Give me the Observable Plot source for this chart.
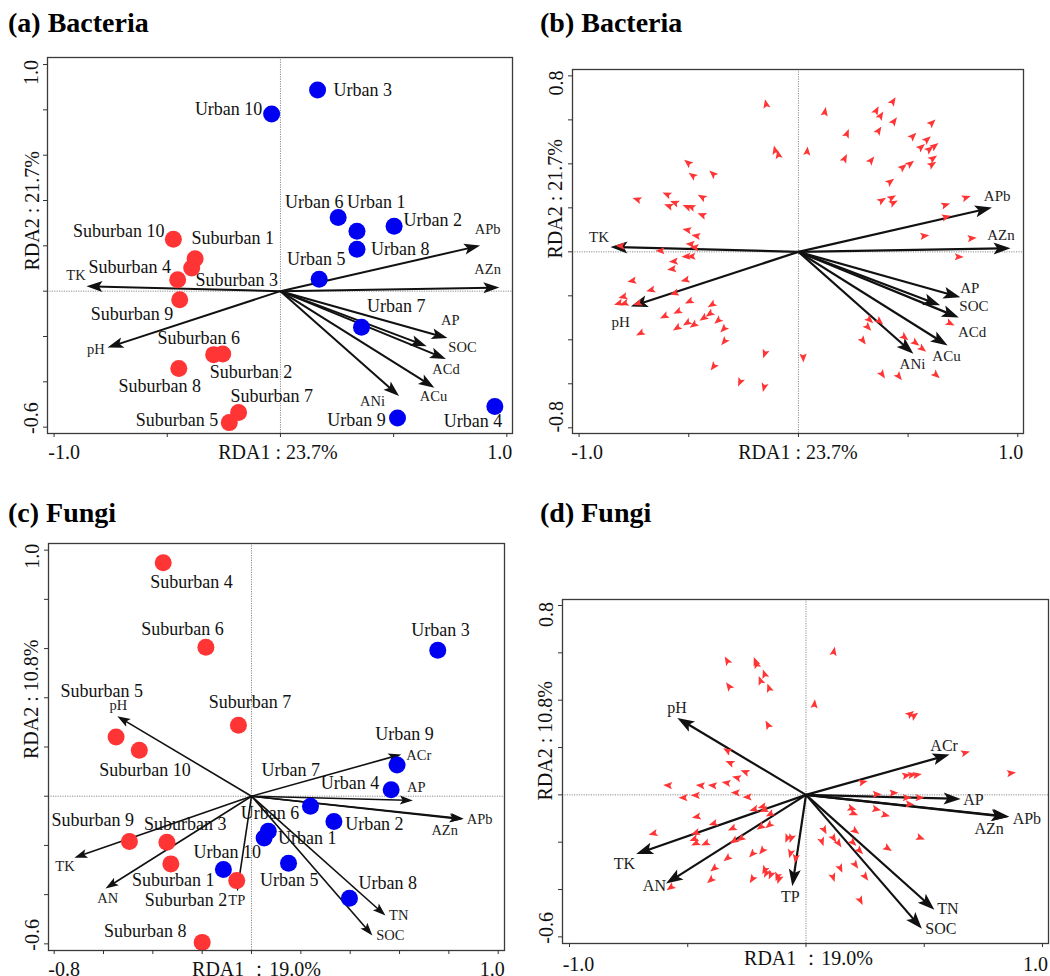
<!DOCTYPE html>
<html>
<head>
<meta charset="utf-8">
<script src="https://cdn.jsdelivr.net/npm/d3@7"></script>
<script src="https://cdn.jsdelivr.net/npm/@observablehq/plot@0.6"></script>
<style>
  body { margin: 0; background: #fff; }
  #page { position: relative; width: 1050px; height: 976px; overflow: hidden; background: #fff;
          font-family: "Liberation Serif", "Times New Roman", serif; }
  .ptitle { position: absolute; font-weight: bold; font-size: 28px; line-height: 28px; color: #000; white-space: nowrap; }
</style>
</head>
<body>
<div id="page"></div>
<script>
// ---------------- DATA ----------------
// Panel titles and axis titles
const panelTitles = ["(a) Bacteria", "(b) Bacteria", "(c) Fungi", "(d) Fungi"];
const bactXTitle = "RDA1 : 23.7%";
const bactYTitle = "RDA2 : 21.7%";
const fungXTitle = "RDA1 \uFF1A19.0%";
const fungYTitle = "RDA2 : 10.8%";

// Tick values and labelled ticks
const aXTicks = [-1, -0.5, 0, 0.5, 1];
const aYTicks = [-0.6, -0.4, -0.2, 0, 0.2, 0.4, 0.6, 0.8, 1.0];
const aXTickLabels = [-1.0, 1.0];
const aYTickLabels = [1.0, -0.6];
const bXTicks = [-1, -0.5, 0, 0.5, 1];
const bYTicks = [-0.8, -0.6, -0.4, -0.2, 0, 0.2, 0.4, 0.6, 0.8];
const bXTickLabels = [-1.0, 1.0];
const bYTickLabels = [0.8, -0.8];
const cXTicks = [-0.8, -0.6, -0.4, -0.2, 0, 0.2, 0.4, 0.6, 0.8, 1.0];
const cYTicks = [-0.6, -0.4, -0.2, 0, 0.2, 0.4, 0.6, 0.8, 1.0];
const cXTickLabels = [-0.8, 1.0];
const cYTickLabels = [1.0, -0.6];
const dXTicks = [-1, -0.5, 0, 0.5, 1];
const dYTicks = [-0.6, -0.4, -0.2, 0, 0.2, 0.4, 0.6, 0.8];
const dXTickLabels = [-1.0, 1.0];
const dYTickLabels = [0.8, -0.6];

// Sample names (same order in panels a and c)
const sampleNames = ["Urban 1","Urban 2","Urban 3","Urban 4","Urban 5","Urban 6","Urban 7","Urban 8","Urban 9","Urban 10",
  "Suburban 1","Suburban 2","Suburban 3","Suburban 4","Suburban 5","Suburban 6","Suburban 7","Suburban 8","Suburban 9","Suburban 10"];

// Panel (a) bacteria sample scores
const aSampleX = [0.338, 0.502, 0.164, 0.947, 0.171, 0.255, 0.358, 0.338, 0.517, -0.039,
  -0.377, -0.255, -0.392, -0.454, -0.226, -0.295, -0.185, -0.449, -0.445, -0.473];
const aSampleY = [0.264, 0.286, 0.888, -0.509, 0.053, 0.325, -0.159, 0.185, -0.560, 0.782,
  0.143, -0.277, 0.102, 0.050, -0.580, -0.280, -0.535, -0.341, -0.038, 0.229];
const aLabelX = [0.423, 0.673, 0.364, 0.850, 0.158, 0.149, 0.511, 0.529, 0.336, -0.229,
  -0.211, -0.130, -0.193, -0.666, -0.457, -0.361, -0.038, -0.533, -0.656, -0.714];
const aLabelY = [0.391, 0.311, 0.888, -0.575, 0.139, 0.391, -0.068, 0.185, -0.568, 0.804,
  0.235, -0.358, 0.050, 0.106, -0.568, -0.206, -0.465, -0.420, -0.100, 0.265];

// Panel (c) fungi sample scores
const cSampleX = [0.051, 0.334, 0.755, 0.566, 0.150, 0.068, 0.239, 0.397, 0.590, -0.114,
  -0.327, -0.060, -0.343, -0.358, -0.549, -0.185, -0.053, -0.200, -0.495, -0.455];
const cSampleY = [-0.170, -0.103, 0.593, 0.026, -0.272, -0.142, -0.041, -0.415, 0.127, -0.298,
  -0.275, -0.343, -0.187, 0.949, 0.241, 0.605, 0.288, -0.594, -0.184, 0.187];
const cLabelX = [0.226, 0.498, 0.766, 0.399, 0.153, 0.075, 0.159, 0.552, 0.620, -0.098,
  -0.317, -0.266, -0.269, -0.243, -0.607, -0.280, -0.006, -0.431, -0.644, -0.432];
const cLabelY = [-0.171, -0.112, 0.674, 0.053, -0.340, -0.069, 0.107, -0.352, 0.251, -0.228,
  -0.340, -0.424, -0.113, 0.871, 0.427, 0.677, 0.382, -0.547, -0.096, 0.107];

// Bacteria environmental arrows (panels a, b)
const bactEnvNames = ["TK", "pH", "APb", "AZn", "AP", "SOC", "ACd", "ACu", "ANi"];
const bactEnvX = [-0.857, -0.764, 0.882, 0.967, 0.738, 0.646, 0.731, 0.680, 0.524];
const bactEnvY = [0.022, -0.249, 0.201, 0.016, -0.207, -0.243, -0.299, -0.426, -0.463];
const aEnvLabelX = [-0.903, -0.815, 0.915, 0.915, 0.750, 0.804, 0.731, 0.676, 0.407];
const aEnvLabelY = [0.069, -0.255, 0.272, 0.096, -0.130, -0.248, -0.344, -0.466, -0.484];
const bEnvLabelX = [-0.909, -0.810, 0.906, 0.923, 0.781, 0.800, 0.792, 0.675, 0.520];
const bEnvLabelY = [0.065, -0.321, 0.255, 0.076, -0.165, -0.249, -0.367, -0.476, -0.511];

// Fungi environmental arrows (panels c, d)
const fungEnvNames = ["pH", "ACr", "AP", "APb", "AZn", "TN", "SOC", "TP", "TK", "AN"];
const fungEnvX = [-0.544, 0.607, 0.654, 0.860, 0.855, 0.543, 0.490, -0.058, -0.718, -0.592];
const fungEnvY = [0.325, 0.170, -0.017, -0.092, -0.094, -0.485, -0.566, -0.386, -0.250, -0.375];
const cEnvLabelX = [-0.540, 0.678, 0.668, 0.925, 0.783, 0.597, 0.563, -0.060, -0.756, -0.583];
const cEnvLabelY = [0.369, 0.168, 0.037, -0.096, -0.140, -0.485, -0.567, -0.424, -0.286, -0.417];
const dEnvLabelX = [-0.545, 0.584, 0.708, 0.934, 0.774, 0.600, 0.570, -0.066, -0.768, -0.641];
const dEnvLabelY = [0.369, 0.209, -0.020, -0.103, -0.143, -0.481, -0.565, -0.431, -0.293, -0.385];

// Panel (b) bacterial species scores
const bSpeciesX = [-0.148,-0.107,-0.092,0.040,-0.505,-0.484,-0.391,-0.737,-0.601,-0.566,-0.593,-0.509,-0.491,-0.441,-0.441,
  -0.509,-0.468,-0.494,-0.475,-0.813,-0.631,-0.513,-0.490,-0.570,-0.578,-0.517,-0.760,-0.674,-0.567,-0.801,-0.795,-0.821,
  -0.734,-0.499,-0.396,-0.406,-0.434,-0.552,-0.613,-0.555,-0.509,-0.479,-0.368,-0.342,-0.339,-0.722,-0.154,0.022,-0.388,
  -0.267,-0.157,
  0.121,0.356,0.376,0.432,0.437,0.610,0.222,0.367,0.523,0.588,0.561,0.599,0.622,0.212,0.333,0.615,0.611,0.478,0.511,
  0.420,0.382,0.427,0.435,0.766,0.672,0.675,0.576,0.792,0.733,0.326,0.371,0.318,0.295,0.485,0.535,0.566,0.693,0.383,
  0.459,0.629];
const bSpeciesY = [0.674,0.464,0.444,0.459,0.406,0.348,0.356,0.239,0.262,0.224,0.209,0.205,0.205,0.250,0.168,
  0.100,0.073,0.035,0.020,0.027,0.005,-0.021,-0.021,-0.044,-0.079,-0.129,-0.132,-0.174,-0.189,-0.205,-0.235,-0.235,
  -0.235,-0.226,-0.241,-0.283,-0.302,-0.273,-0.294,-0.347,-0.324,-0.333,-0.314,-0.352,-0.409,-0.371,-0.465,-0.483,-0.523,
  -0.594,-0.617,
  0.638,0.644,0.621,0.686,0.595,0.588,0.539,0.553,0.527,0.512,0.477,0.467,0.482,0.426,0.418,0.426,0.398,0.386,0.402,
  0.320,0.235,0.247,0.224,0.247,0.214,0.159,0.073,0.062,-0.023,-0.311,-0.317,-0.344,-0.405,-0.389,-0.415,-0.442,-0.326,-0.559,
  -0.568,-0.561];

// Panel (d) fungal species scores
const dSpeciesX = [-0.334,-0.214,-0.210,-0.176,-0.193,-0.157,-0.327,-0.162,-0.334,-0.323,-0.259,-0.294,-0.338,-0.396,-0.447,
  -0.585,-0.299,-0.249,-0.468,-0.520,-0.221,-0.186,-0.179,-0.153,-0.464,-0.393,-0.313,-0.157,-0.193,-0.647,-0.468,-0.475,
  -0.468,-0.426,-0.306,-0.277,-0.080,-0.063,-0.066,-0.044,-0.228,-0.186,-0.334,-0.390,-0.404,-0.228,-0.176,-0.169,-0.150,
  -0.122,-0.115,-0.574,
  0.118,0.036,0.442,0.459,0.675,0.869,0.426,0.450,0.471,0.242,0.301,0.372,0.428,0.482,0.440,0.195,0.203,0.299,0.337,
  0.078,0.068,0.118,0.139,0.210,0.200,0.228,0.347,0.485,0.146,0.210,0.252,0.115,0.231];
const dSpeciesY = [0.568,0.565,0.554,0.512,0.484,0.453,0.460,0.297,0.188,0.136,0.097,0.073,0.051,0.040,0.040,
  0.040,0.009,-0.009,-0.002,-0.012,-0.062,-0.051,-0.065,-0.082,-0.093,-0.122,-0.143,-0.129,-0.136,-0.164,-0.161,-0.188,
  -0.206,-0.206,-0.195,-0.185,-0.185,-0.185,-0.249,-0.270,-0.251,-0.237,-0.269,-0.312,-0.361,-0.357,-0.319,-0.333,-0.340,
  -0.347,-0.358,-0.392,
  0.607,0.385,0.343,0.336,0.178,0.092,0.082,0.085,0.085,0.054,0.002,0.008,-0.012,-0.012,-0.040,-0.058,-0.079,-0.061,-0.086,
  -0.150,-0.199,-0.185,-0.206,-0.154,-0.203,-0.237,-0.227,-0.182,-0.312,-0.297,-0.347,-0.350,-0.448];

// ---------------- DRAWING ----------------
const RED = "#ff3434";
const BLUE = "#0000f2";
const INK = "#111111";
const fmt = d => d.toFixed(1);
const angle = d => 90 - Math.atan2(d.y, d.x) * 180 / Math.PI;

function headShape(len, half, notch) {
  return {
    draw(ctx) {
      ctx.moveTo(0, -len);
      ctx.lineTo(-half, 0);
      ctx.lineTo(0, -len * notch);
      ctx.lineTo(half, 0);
      ctx.closePath();
    }
  };
}

function zip(names, xs, ys, lxs, lys) {
  return names.map((n, i) => ({name: n, x: xs[i], y: ys[i], lx: lxs ? lxs[i] : null, ly: lys ? lys[i] : null}));
}

function panel(cfg) {
  const env = zip(cfg.envNames, cfg.envX, cfg.envY, cfg.envLX, cfg.envLY);
  const marks = [
    Plot.ruleX([0], {stroke: "#8c8c8c", strokeWidth: 1, strokeDasharray: "1.2,1.2"}),
    Plot.ruleY([0], {stroke: "#8c8c8c", strokeWidth: 1, strokeDasharray: "1.2,1.2"})
  ];
  let samples = null;
  if (cfg.sampleX) {
    samples = zip(sampleNames, cfg.sampleX, cfg.sampleY, cfg.labelX, cfg.labelY);
    marks.push(Plot.text(samples, {x: "lx", y: "ly", text: "name", fontSize: 18, fill: INK}));
  }
  marks.push(Plot.arrow(env, {x1: d => 0, y1: d => 0, x2: "x", y2: "y", headLength: 0, insetEnd: cfg.headLen * 0.5,
    stroke: INK, strokeWidth: cfg.shaftW, strokeLinecap: "butt"}));
  marks.push(Plot.vector(env, {x: "x", y: "y", length: cfg.headLen, rotate: angle, anchor: "end",
    shape: headShape(cfg.headLen, cfg.headHalf, 0.22), fill: INK, stroke: "none"}));
  marks.push(Plot.text(env, {x: "lx", y: "ly", text: "name", fontSize: cfg.envFont, fill: "#222"}));
  if (samples) {
    marks.push(Plot.dot(samples.filter(d => d.name.startsWith("Urban")), {x: "x", y: "y", r: 8.5, fill: BLUE, stroke: "none"}));
    marks.push(Plot.dot(samples.filter(d => d.name.startsWith("Suburban")), {x: "x", y: "y", r: 8.5, fill: RED, stroke: "none"}));
  }
  if (cfg.speciesX) {
    const sp = cfg.speciesX.map((x, i) => ({x, y: cfg.speciesY[i]}));
    marks.push(Plot.vector(sp, {x: "x", y: "y", length: 9, rotate: angle, anchor: "middle",
      shape: headShape(9, 3.6, 0.2), fill: RED, stroke: "none"}));
  }
  // frame + axes
  marks.push(
    Plot.frame({stroke: "#3a3a3a", strokeWidth: 1.3}),
    Plot.axisX(cfg.xTicks, {tickSize: 4, fill: "none", stroke: "#333", label: null}),
    Plot.axisY(cfg.yTicks, {tickSize: 4, fill: "none", stroke: "#333", label: null}),
    Plot.axisX([cfg.xLab[0]], {tickSize: 0, tickPadding: cfg.xPad, lineAnchor: "bottom", dx: cfg.xShift[0],
      tickFormat: fmt, fontSize: 20, fill: INK, label: null}),
    Plot.axisX([cfg.xLab[1]], {tickSize: 0, tickPadding: cfg.xPad, lineAnchor: "bottom", dx: cfg.xShift[1],
      tickFormat: fmt, fontSize: 20, fill: INK, label: null}),
    Plot.axisY([cfg.yLab[0]], {tickSize: 0, tickPadding: 10, tickRotate: -90, textAnchor: "middle", lineAnchor: "bottom",
      dy: cfg.yShift[0], tickFormat: fmt, fontSize: 20, fill: INK, label: null}),
    Plot.axisY([cfg.yLab[1]], {tickSize: 0, tickPadding: 10, tickRotate: -90, textAnchor: "middle", lineAnchor: "bottom",
      dy: cfg.yShift[1], tickFormat: fmt, fontSize: 20, fill: INK, label: null}),
    Plot.text([cfg.xTitle], {frameAnchor: "bottom", lineAnchor: "bottom", dx: cfg.xTitleDx, dy: cfg.xTitleDy, fontSize: 20, fill: INK}),
    Plot.text([cfg.yTitle], {frameAnchor: "left", rotate: -90, lineAnchor: "bottom", dx: cfg.yTitleDx, dy: cfg.yTitleDy, fontSize: 20, fill: INK})
  );
  const svg = Plot.plot({
    width: cfg.width, height: cfg.height,
    marginTop: cfg.m[0], marginRight: cfg.m[1], marginBottom: cfg.m[2], marginLeft: cfg.m[3],
    x: {domain: cfg.xDomain}, y: {domain: cfg.yDomain},
    style: {fontFamily: '"Liberation Serif", "Times New Roman", serif', fontSize: "20px", color: INK,
            background: "transparent", overflow: "visible"},
    marks
  });
  svg.style.position = "absolute";
  svg.style.left = cfg.left + "px";
  svg.style.top = cfg.top + "px";
  document.getElementById("page").appendChild(svg);
}

const page = document.getElementById("page");
[[8, 8.5], [540, 8.5], [8, 498.5], [540, 498.5]].forEach(([l, t], i) => {
  const div = document.createElement("div");
  div.className = "ptitle";
  div.style.left = l + "px";
  div.style.top = t + "px";
  div.textContent = panelTitles[i];
  page.appendChild(div);
});

// (a)
panel({left: 0, top: 40, width: 525, height: 440, m: [17, 13, 47, 47],
  xDomain: [-1.029, 1.025], yDomain: [-0.628, 1.031],
  xTicks: aXTicks, yTicks: aYTicks, xLab: aXTickLabels, yLab: aYTickLabels,
  xPad: 25, xShift: [10, -7], yShift: [8, -9],
  xTitle: bactXTitle, yTitle: bactYTitle, xTitleDx: -2, xTitleDy: 25, yTitleDx: -9, yTitleDy: 25,
  sampleX: aSampleX, sampleY: aSampleY, labelX: aLabelX, labelY: aLabelY,
  envNames: bactEnvNames, envX: bactEnvX, envY: bactEnvY, envLX: aEnvLabelX, envLY: aEnvLabelY,
  envFont: 14.5, headLen: 16, headHalf: 5.5, shaftW: 2});

// (b)
panel({left: 530, top: 40, width: 520, height: 440, m: [29, 27, 47, 42],
  xDomain: [-1.030, 1.026], yDomain: [-0.826, 0.829],
  xTicks: bXTicks, yTicks: bYTicks, xLab: bXTickLabels, yLab: bYTickLabels,
  xPad: 25, xShift: [8, -7], yShift: [7, -11],
  xTitle: bactXTitle, yTitle: bactYTitle, xTitleDx: 0, xTitleDy: 25, yTitleDx: -11, yTitleDy: 7,
  speciesX: bSpeciesX, speciesY: bSpeciesY,
  envNames: bactEnvNames, envX: bactEnvX, envY: bactEnvY, envLX: bEnvLabelX, envLY: bEnvLabelY,
  envFont: 15, headLen: 17, headHalf: 6, shaftW: 2.2});

// (c)
panel({left: 0, top: 530, width: 525, height: 446, m: [13, 21, 26, 48],
  xDomain: [-0.823, 1.0255], yDomain: [-0.627, 1.027],
  xTicks: cXTicks, yTicks: cYTicks, xLab: cXTickLabels, yLab: cYTickLabels,
  xPad: 25, xShift: [10, -6], yShift: [6, -9],
  xTitle: fungXTitle, yTitle: fungYTitle, xTitleDx: -20, xTitleDy: 25, yTitleDx: -11, yTitleDy: 12,
  sampleX: cSampleX, sampleY: cSampleY, labelX: cLabelX, labelY: cLabelY,
  envNames: fungEnvNames, envX: fungEnvX, envY: fungEnvY, envLX: cEnvLabelX, envLY: cEnvLabelY,
  envFont: 14.5, headLen: 13, headHalf: 4.5, shaftW: 1.6});

// (d)
panel({left: 530, top: 580, width: 520, height: 396, m: [19, 2, 33, 32],
  xDomain: [-1.0296, 1.0254], yDomain: [-0.628, 0.8254],
  xTicks: dXTicks, yTicks: dYTicks, xLab: dXTickLabels, yLab: dYTickLabels,
  xPad: 27, xShift: [9, -7], yShift: [9, -9],
  xTitle: fungXTitle, yTitle: fungYTitle, xTitleDx: 3, xTitleDy: 21, yTitleDx: -11, yTitleDy: 29,
  speciesX: dSpeciesX, speciesY: dSpeciesY,
  envNames: fungEnvNames, envX: fungEnvX, envY: fungEnvY, envLX: dEnvLabelX, envLY: dEnvLabelY,
  envFont: 16, headLen: 17, headHalf: 6, shaftW: 2.2});
</script>
</body>
</html>
